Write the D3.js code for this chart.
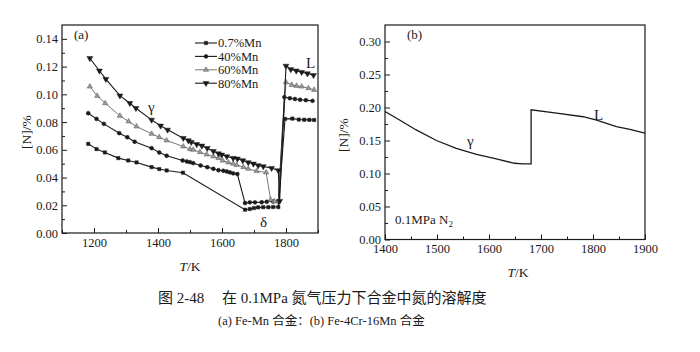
<!DOCTYPE html>
<html>
<head>
<meta charset="utf-8">
<script src="https://cdn.jsdelivr.net/npm/d3@7"></script>
<style>
  body { margin: 0; background: #fff; }
  svg text { font-family: "Liberation Serif", "Noto Sans CJK SC", serif; fill: #1a1a1a; }
</style>
</head>
<body>
<div id="chart"></div>
<script>
// (a) Fe-Mn 合金: [T/K, [N]%]
const mn07 = [[1182,0.0643],[1208,0.0605],[1234,0.0581],[1276,0.054],[1307,0.0523],[1333,0.0509],[1380,0.0475],[1404,0.0461],[1427,0.0451],[1478,0.0435],
  [1672,0.0168],[1687,0.0173],[1700,0.018],[1713,0.0185],[1729,0.0186],[1745,0.0186],[1760,0.0187],[1776,0.0187],
  [1797,0.0823],[1820,0.0825],[1840,0.0818],[1857,0.0817],[1873,0.0816],[1888,0.0815]];
const mn40 = [[1182,0.0864],[1208,0.0823],[1231,0.0787],[1279,0.072],[1304,0.0691],[1327,0.0658],[1380,0.0612],[1404,0.0581],[1427,0.0557],[1477,0.0523],
  [1490,0.0516],[1500,0.0511],[1510,0.0504],[1533,0.0487],[1554,0.0475],[1573,0.0463],[1589,0.0453],[1604,0.0449],[1615,0.0444],[1625,0.0437],[1635,0.043],[1648,0.0425],
  [1672,0.0216],[1687,0.0221],[1703,0.0221],[1724,0.0222],[1740,0.0225],[1760,0.0227],[1776,0.0228],
  [1795,0.098],[1812,0.0972],[1828,0.0966],[1844,0.0961],[1862,0.0958],[1883,0.0953]];
const mn60 = [[1187,0.1056],[1210,0.0989],[1235,0.0936],[1281,0.0845],[1308,0.0804],[1333,0.0768],[1380,0.0715],[1404,0.0691],[1427,0.0667],[1479,0.0624],
  [1500,0.0605],[1510,0.06],[1531,0.0583],[1552,0.0566],[1573,0.0552],[1589,0.054],[1602,0.0522],[1620,0.0509],[1635,0.0499],[1646,0.049],[1667,0.0475],[1682,0.0463],
  [1708,0.0447],[1738,0.0437],[1752,0.024],[1764,0.0228],[1776,0.0228],
  [1800,0.1087],[1818,0.1068],[1833,0.1061],[1849,0.1056],[1870,0.1044],[1888,0.1032]];
const mn80 = [[1187,0.126],[1217,0.117],[1237,0.111],[1281,0.099],[1312,0.0936],[1331,0.09],[1380,0.0816],[1408,0.0773],[1430,0.0744],[1479,0.0684],
  [1495,0.0667],[1504,0.0655],[1521,0.064],[1537,0.0629],[1554,0.0612],[1573,0.059],[1589,0.0573],[1599,0.0564],[1615,0.0552],[1635,0.054],[1648,0.0535],[1665,0.0523],
  [1682,0.0509],[1698,0.0499],[1713,0.0487],[1729,0.048],[1755,0.0468],[1776,0.0451],[1780,0.023],
  [1800,0.1205],[1815,0.118],[1832,0.117],[1849,0.116],[1867,0.115],[1886,0.1138]];
const seriesNames = ["0.7%Mn", "40%Mn", "60%Mn", "80%Mn"];

// (b) Fe-4Cr-16Mn 合金
const curveB = [[1400,0.194],[1428,0.181],[1460,0.166],[1499,0.150],[1537,0.138],[1576,0.129],[1614,0.122],[1649,0.1155],[1665,0.1145],[1681,0.1145],
  [1681,0.1965],[1730,0.1915],[1781,0.186],[1807,0.181],[1845,0.171],[1871,0.167],[1900,0.161]];

const ticksAX = [1200, 1400, 1600, 1800];
const ticksAY = [0, 0.02, 0.04, 0.06, 0.08, 0.10, 0.12, 0.14];
const ticksBX = [1400, 1500, 1600, 1700, 1800, 1900];
const ticksBY = [0, 0.05, 0.10, 0.15, 0.20, 0.25, 0.30];

const svg = d3.select("#chart").append("svg")
  .attr("width", 700).attr("height", 352);

const ink = "#1a1a1a";

function drawFrame(g, x, y, xt, xm, yt, ym, yfmt) {
  const w = x.range()[1], h = y.range()[0];
  g.append("g").attr("transform", `translate(0,${h})`)
    .call(d3.axisBottom(x).tickValues(xm).tickSize(-3).tickFormat(""));
  g.append("g").attr("transform", `translate(0,${h})`)
    .call(d3.axisBottom(x).tickValues(xt).tickSize(-5).tickPadding(5).tickFormat(d3.format("d")));
  g.append("g").call(d3.axisLeft(y).tickValues(ym).tickSize(-3).tickFormat(""));
  g.append("g").call(d3.axisLeft(y).tickValues(yt).tickSize(-5).tickPadding(4).tickFormat(yfmt));
  g.selectAll(".domain").remove();
  g.selectAll(".tick line").attr("stroke", ink);
  g.selectAll(".tick text").style("font-size", "12.5px").style("font-family", '"Liberation Serif", serif');
  g.append("rect").attr("width", w).attr("height", h)
    .attr("fill", "none").attr("stroke", ink).attr("stroke-width", 1.2);
}

// ---- panel (a)
const ga = svg.append("g").attr("transform", "translate(62,25)");
const xa = d3.scaleLinear().domain([1100, 1900]).range([0, 256]);
const ya = d3.scaleLinear().domain([0, 0.15]).range([208, 0]);
drawFrame(ga, xa, ya, ticksAX, d3.range(1100, 1901, 100), ticksAY, d3.range(0.01, 0.15, 0.02), d3.format(".2f"));

const lineA = d3.line().x(d => xa(d[0])).y(d => ya(d[1]));
const sym = [d3.symbolSquare, d3.symbolCircle, d3.symbolTriangle, d3.symbolTriangle];
const symSize = [11, 12, 12, 15];
const strokeCol = [ink, ink, "#555", ink];
const fillCol = [ink, ink, "#9a9a9a", ink];
const lw = [1.1, 1.1, 0.8, 1.1];

[mn07, mn40, mn60, mn80].forEach((data, i) => {
  ga.append("path").datum(data).attr("d", lineA)
    .attr("fill", "none").attr("stroke", strokeCol[i]).attr("stroke-width", lw[i]);
  ga.selectAll(".m" + i).data(data).enter().append("path")
    .attr("transform", d => `translate(${xa(d[0])},${ya(d[1])})` + (i === 3 ? " rotate(180)" : ""))
    .attr("d", d3.symbol().type(sym[i]).size(symSize[i]))
    .attr("fill", fillCol[i]).attr("stroke", strokeCol[i]).attr("stroke-width", 0.5);
});

// legend
seriesNames.forEach((name, i) => {
  const ly = 18 + i * 13.4;
  ga.append("line").attr("x1", 133).attr("x2", 155).attr("y1", ly).attr("y2", ly)
    .attr("stroke", strokeCol[i]).attr("stroke-width", lw[i]);
  ga.append("path").attr("transform", `translate(144,${ly})` + (i === 3 ? " rotate(180)" : ""))
    .attr("d", d3.symbol().type(sym[i]).size(symSize[i]))
    .attr("fill", fillCol[i]).attr("stroke", strokeCol[i]).attr("stroke-width", 0.5);
  ga.append("text").attr("x", 156).attr("y", ly + 4.3).style("font-size", "12.5px").text(name);
});

ga.append("text").attr("x", 12).attr("y", 14).style("font-size", "13px").text("(a)");
ga.append("text").attr("x", 86).attr("y", 87).style("font-size", "15px").text("γ");
ga.append("text").attr("x", 198).attr("y", 202).style("font-size", "15px").text("δ");
ga.append("text").attr("x", 244).attr("y", 43).style("font-size", "15px").text("L");

svg.append("text").attr("x", 190).attr("y", 271).attr("text-anchor", "middle").style("font-size", "13.5px")
  .html('<tspan font-style="italic">T</tspan>/K');
svg.append("text").attr("transform", "translate(31,132) rotate(-90)").attr("text-anchor", "middle")
  .style("font-size", "13.5px").text("[N]/%");

// ---- panel (b)
const gb = svg.append("g").attr("transform", "translate(385,25)");
const xb = d3.scaleLinear().domain([1400, 1900]).range([0, 260]);
const yb = d3.scaleLinear().domain([0, 0.325]).range([214.5, 0]);
drawFrame(gb, xb, yb, ticksBX, d3.range(1450, 1900, 100), ticksBY, d3.range(0.025, 0.32, 0.05), d3.format(".2f"));

gb.append("path").datum(curveB)
  .attr("d", d3.line().x(d => xb(d[0])).y(d => yb(d[1])))
  .attr("fill", "none").attr("stroke", ink).attr("stroke-width", 1.3);

gb.append("text").attr("x", 22).attr("y", 14).style("font-size", "13px").text("(b)");
gb.append("text").attr("x", 82).attr("y", 121).style("font-size", "15px").text("γ");
gb.append("text").attr("x", 209).attr("y", 95).style("font-size", "15px").text("L");
gb.append("text").attr("x", 10).attr("y", 199).style("font-size", "13px")
  .html('0.1MPa N<tspan dy="3" style="font-size:9px">2</tspan>');

svg.append("text").attr("x", 518).attr("y", 277).attr("text-anchor", "middle").style("font-size", "13.5px")
  .html('<tspan font-style="italic">T</tspan>/K');
svg.append("text").attr("transform", "translate(348,135) rotate(-90)").attr("text-anchor", "middle")
  .style("font-size", "13.5px").text("[N]/%");

// ---- caption
svg.append("text").attr("x", 158).attr("y", 303).style("font-size", "15px").text("图 2-48");
svg.append("text").attr("x", 222).attr("y", 303).style("font-size", "15px").text("在 0.1MPa 氮气压力下合金中氮的溶解度");
svg.append("text").attr("x", 218).attr("y", 325).style("font-size", "12.5px").text("(a) Fe-Mn 合金：(b) Fe-4Cr-16Mn 合金");
</script>
</body>
</html>
